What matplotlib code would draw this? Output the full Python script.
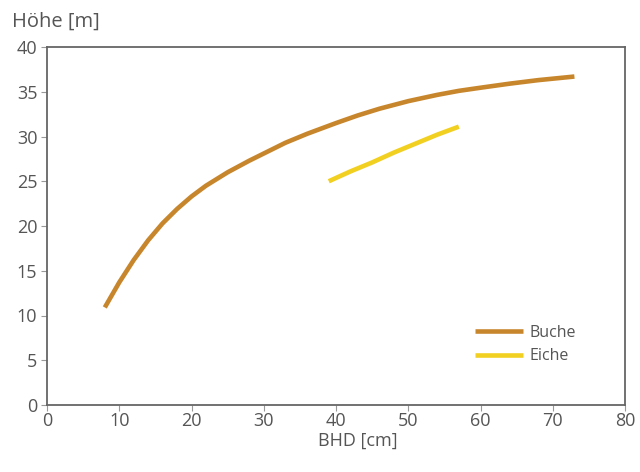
import numpy as np
import matplotlib.pyplot as plt

plt.rcParams['font.family'] = ['Open Sans', 'DejaVu Sans']

bhd_buche = [8, 10, 12, 14, 16, 18, 20, 22, 25, 28, 30, 33, 36, 40, 43, 46, 50, 54, 57, 60, 64, 68, 73]
hoehe_buche = [10.9, 13.7, 16.2, 18.4, 20.3, 21.9, 23.3, 24.5, 26.0, 27.3, 28.1, 29.3, 30.3, 31.5, 32.35,
               33.1, 33.95, 34.65, 35.1, 35.45, 35.9, 36.3, 36.7]

bhd_eiche = [39, 42, 45, 48, 51, 54, 57]
hoehe_eiche = [25.0, 26.1, 27.1, 28.2, 29.2, 30.2, 31.1]

grey = '#666666'
txt = '#555555'

fig = plt.figure(figsize=(6.4, 4.72), dpi=100)
ax = fig.add_axes([47/640, 67/472, 578/640, 358/472])

ax.plot(bhd_buche, hoehe_buche, color='#c8862c', linewidth=3.3, label='Buche', solid_capstyle='butt')
ax.plot(bhd_eiche, hoehe_eiche, color='#f2d022', linewidth=3.3, label='Eiche', solid_capstyle='butt')

ax.set_xlim(0, 80)
ax.set_ylim(0, 40)
ax.set_xticks(range(0, 81, 10))
ax.set_yticks(range(0, 41, 5))

for s in ax.spines.values():
    s.set_color(grey)
    s.set_linewidth(1.3)
ax.tick_params(colors='#999999', labelsize=13, length=4, width=0.8, pad=1)
ax.tick_params(axis='y', pad=3)
for lbl in ax.get_xticklabels() + ax.get_yticklabels():
    lbl.set_color(txt)

ax.set_xlabel('BHD [cm]', fontsize=13, color=txt, labelpad=0)
ax.xaxis.set_label_coords(0.538, -0.075)
fig.text(12/640, 1 - 22/472, 'Höhe [m]', fontsize=14.5, color=txt, va='center', ha='left')

leg = ax.legend(loc='center left', bbox_to_anchor=(0.74, 0.169), frameon=False, fontsize=11.5,
                handlelength=3.0, labelcolor=txt, handletextpad=0.4, labelspacing=0.5,
                borderpad=0, borderaxespad=0)

fig.savefig('out.png', dpi=100)
